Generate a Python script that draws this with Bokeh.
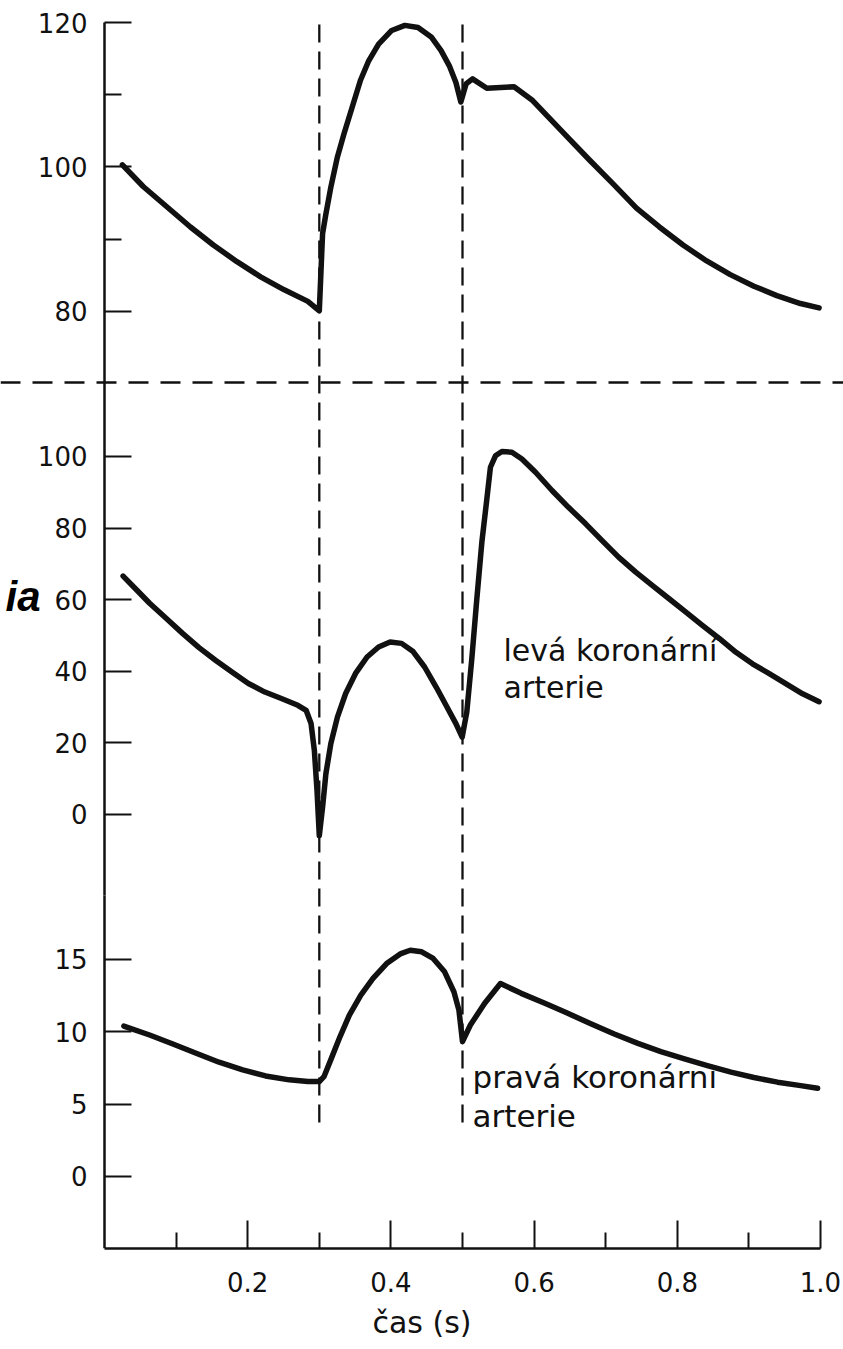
from bokeh.plotting import figure
from bokeh.models import Range1d, LinearAxis, FixedTicker, Span, Label
from bokeh.embed import file_html
from bokeh.resources import INLINE

# ---- data ----
# aorta pressure (top panel)
t_aorta = [0.025, 0.054, 0.087, 0.12, 0.152, 0.185, 0.218, 0.251, 0.284, 0.3,
           0.3046, 0.3092, 0.3161, 0.3253, 0.3345, 0.346, 0.3575, 0.369, 0.3828,
           0.4011, 0.4195, 0.4379, 0.4563, 0.4701, 0.4816, 0.4908, 0.4977,
           0.505, 0.514, 0.534, 0.572, 0.598, 0.618, 0.644, 0.677, 0.71, 0.743,
           0.775, 0.808, 0.841, 0.874, 0.907, 0.939, 0.972, 0.998]
p_aorta = [100.3, 97.3, 94.5, 91.7, 89.2, 86.9, 84.8, 83.0, 81.4, 80.1,
           90.8, 93.5, 97.2, 101.4, 104.6, 108.3, 112.0, 114.7, 117.0,
           118.9, 119.6, 119.3, 118.0, 116.1, 114.0, 111.7, 109.0,
           111.5, 112.2, 110.9, 111.1, 109.2, 107.1, 104.4, 101.0, 97.7, 94.3,
           91.7, 89.2, 87.0, 85.1, 83.5, 82.2, 81.1, 80.5]

# left coronary artery flow (middle panel)
t_left = [0.026, 0.045, 0.063, 0.086, 0.109, 0.132, 0.155, 0.178, 0.201, 0.224,
          0.247, 0.27, 0.2816, 0.2885, 0.2931, 0.2968, 0.3, 0.3046, 0.3092,
          0.3161, 0.3253, 0.3368, 0.3506, 0.3667, 0.3828, 0.3989, 0.4149, 0.431,
          0.4471, 0.4632, 0.477, 0.4908, 0.4995, 0.506, 0.513, 0.52, 0.527, 0.534,
          0.539, 0.546, 0.555, 0.569, 0.583, 0.602, 0.625, 0.648, 0.672, 0.695,
          0.718, 0.742, 0.765, 0.789, 0.812, 0.835, 0.859, 0.882, 0.905, 0.929,
          0.952, 0.975, 0.998]
p_left = [66.6, 62.7, 59.0, 54.8, 50.6, 46.6, 43.1, 39.8, 36.6, 34.2,
          32.4, 30.5, 29.1, 25.4, 17.9, 6.7, -5.9, 2.1, 11.4,
          19.8, 27.2, 33.8, 39.4, 44.0, 46.8, 48.2, 47.8, 45.5,
          41.2, 35.6, 30.5, 25.4, 21.6, 28.6, 43.5, 60.2, 76.0, 88.1,
          97.0, 100.2, 101.4, 101.2, 99.3, 95.6, 90.5, 85.8, 81.2, 76.5,
          71.9, 67.7, 64.0, 60.2, 56.5, 52.8, 49.1, 45.3, 42.1, 39.3,
          36.5, 33.7, 31.5]

# right coronary artery flow (bottom panel)
t_right = [0.027, 0.063, 0.0955, 0.128, 0.16, 0.193, 0.225, 0.258, 0.284, 0.3,
           0.3065, 0.316, 0.329, 0.342, 0.358, 0.375, 0.394, 0.414, 0.427, 0.443,
           0.459, 0.475, 0.488, 0.495, 0.5, 0.511, 0.531, 0.553, 0.582, 0.615,
           0.647, 0.68, 0.712, 0.745, 0.777, 0.81, 0.842, 0.875, 0.907, 0.94,
           0.97, 0.996]
p_right = [10.4, 9.78, 9.16, 8.52, 7.9, 7.37, 6.95, 6.68, 6.56, 6.56,
           6.9, 8.06, 9.67, 11.16, 12.54, 13.69, 14.72, 15.41, 15.64, 15.53,
           15.07, 14.15, 12.77, 11.5, 9.32, 10.47, 11.97, 13.34, 12.66, 11.97,
           11.28, 10.54, 9.85, 9.2, 8.63, 8.13, 7.67, 7.21, 6.84, 6.52,
           6.3, 6.1]

event_times = [0.3, 0.5]

x_ticks = [0.2, 0.4, 0.6, 0.8, 1.0]
x_tick_labels = ["0.2", "0.4", "0.6", "0.8", "1.0"]
x_minor_ticks = [0.1, 0.3, 0.5, 0.7, 0.9]
top_ticks = [80, 100, 120]
top_minor_ticks = [90, 110]
mid_ticks = [0, 20, 40, 60, 80, 100]
bot_ticks = [0, 5, 10, 15]

x_label = "čas (s)"
left_label = ["levá koronární", "arterie"]
right_label = ["pravá koronárni", "arterie"]
side_text = "ia"

# ---- figure ----
INK = "#111111"
FONT = "DejaVu Sans"

p = figure(width=843, height=1349,
           x_range=Range1d(-0.14525, 1.03212), y_range=Range1d(-49.689, 123.045),
           output_backend="svg", toolbar_location=None, y_axis_location=None,
           min_border_left=0, min_border_right=0, min_border_top=0,
           min_border_bottom=101,
           background_fill_color="white", border_fill_color="white")
p.outline_line_color = None
p.xgrid.visible = False
p.ygrid.visible = False
p.extra_y_ranges = {"mid": Range1d(-121.229, 227.374), "bot": Range1d(-4.977, 81.288)}

# x axis
xa = p.xaxis[0]
xa.bounds = (0, 1)
xa.ticker = FixedTicker(ticks=x_ticks, minor_ticks=x_minor_ticks)
xa.major_label_overrides = dict(zip(x_ticks, x_tick_labels))
xa.axis_line_color = INK
xa.axis_line_width = 2.5
xa.major_tick_line_color = INK
xa.major_tick_line_width = 2
xa.minor_tick_line_color = INK
xa.minor_tick_line_width = 2
xa.major_tick_in = 28
xa.major_tick_out = 0
xa.minor_tick_in = 16
xa.minor_tick_out = 0
xa.major_label_text_font = FONT
xa.major_label_text_font_size = "26px"
xa.major_label_text_color = INK
xa.major_label_standoff = 23
xa.axis_label = x_label
xa.axis_label_text_font = FONT
xa.axis_label_text_font_style = "normal"
xa.axis_label_text_font_size = "30px"
xa.axis_label_text_color = INK
xa.axis_label_standoff = 10


def y_axis(range_name, ticks, minor, bounds):
    ax = LinearAxis(y_range_name=range_name, fixed_location=0, bounds=bounds,
                    ticker=FixedTicker(ticks=ticks, minor_ticks=minor))
    ax.axis_line_color = INK
    ax.axis_line_width = 2.5
    ax.major_tick_line_color = INK
    ax.major_tick_line_width = 2
    ax.minor_tick_line_color = INK
    ax.minor_tick_line_width = 2
    ax.major_tick_in = 27
    ax.major_tick_out = 0
    ax.minor_tick_in = 17
    ax.minor_tick_out = 0
    ax.major_label_text_font = FONT
    ax.major_label_text_font_size = "26px"
    ax.major_label_text_color = INK
    ax.major_label_standoff = 17
    p.add_layout(ax, "left")


y_axis("default", top_ticks, top_minor_ticks, (70.17, 120))
y_axis("mid", mid_ticks, [], (-22.6, 120.7))
y_axis("bot", bot_ticks, [], (-4.977, 19.42))

# separator between aorta panel and the coronary panels
p.add_layout(Span(location=70.17, dimension="width", line_color=INK,
                  line_width=2.5, line_dash="20 12"))

# event markers (dashed verticals)
p.segment(x0=event_times, y0=[-32.25] * len(event_times),
          x1=event_times, y1=[120.55] * len(event_times),
          line_color=INK, line_width=2.3, line_dash="18 9")

# curves
style = dict(line_color=INK, line_width=5.5, line_join="round", line_cap="round")
p.line(t_aorta, p_aorta, **style)
p.line(t_left, p_left, y_range_name="mid", **style)
p.line(t_right, p_right, y_range_name="bot", **style)

# annotations
for txt, yv in zip(left_label, [45.9, 35.6]):
    p.add_layout(Label(x=0.5573, y=yv, y_range_name="mid", text=txt,
                       text_font=FONT, text_font_size="30px", text_color=INK,
                       text_align="left", text_baseline="alphabetic"))
for txt, yv in zip(right_label, [6.9, 4.2]):
    p.add_layout(Label(x=0.514, y=yv, y_range_name="bot", text=txt,
                       text_font=FONT, text_font_size="31px", text_color=INK,
                       text_align="left", text_baseline="alphabetic"))
p.add_layout(Label(x=-0.0894, y=61.0, y_range_name="mid", text=side_text,
                   text_font="Liberation Sans", text_font_style="bold italic",
                   text_font_size="42px", text_color="black",
                   text_align="right", text_baseline="alphabetic"))

open("out.html", "w").write(file_html(p, INLINE))
